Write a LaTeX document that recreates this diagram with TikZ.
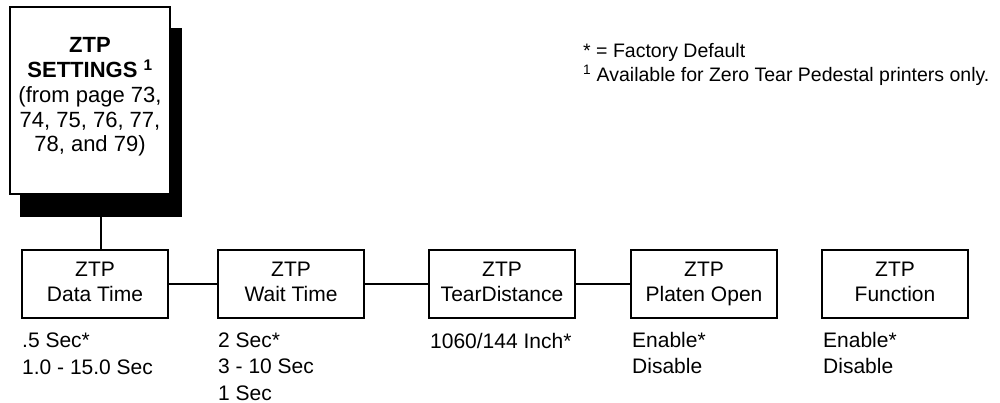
\documentclass[tikz,border=0pt]{standalone}
\usepackage{fontspec}
\setmainfont{Liberation Sans}
\newcommand{\dsc}{\vphantom{p}}
\begin{document}
\begin{tikzpicture}[x=1pt,y=-1pt,
  optfont/.style={font=\fontsize{21}{26.5}\selectfont},
  opt/.style={optfont, align=left, anchor=base west, inner sep=0pt},
  box/.style={draw, line width=1.4pt, minimum width=146pt, minimum height=68pt, inner sep=0pt,
    font=\fontsize{21}{25.5}\selectfont, align=center},
  conn/.style={line width=1.4pt}]
\useasboundingbox (0,0) rectangle (1000,403);
% top box with shadow
\node[fill=black, minimum width=162pt, minimum height=189pt, inner sep=0pt] (shadow) at (101,122.5) {};
\node[draw, fill=white, line width=1.4pt, minimum width=160pt, minimum height=187pt, inner sep=0pt] (top) at (90,100.5) {};
\node[font=\fontsize{22}{24.75}\selectfont, align=center, anchor=base, inner sep=0pt] (toptext) at (90,152)
  {\textbf{ZTP}\\\textbf{SETTINGS \textsuperscript{1}}\\(from page 73,\\74, 75, 76, 77,\\78, and 79)};
% legend
\node[font=\fontsize{19.5}{24.5}\selectfont, align=left, anchor=base west, inner sep=0pt] (legend) at (583,82)
  {* = Factory Default\\\textsuperscript{1} Available for Zero Tear Pedestal printers only.};
% menu boxes
\node[box] (data) at (95,284) {ZTP\\Data Time\dsc};
\node[box] (wait) at (291,284) {ZTP\\Wait Time\dsc};
\node[box] (tear) at (502,284) {ZTP\\TearDistance\dsc};
\node[box] (platen) at (704,284) {ZTP\\Platen Open};
\node[box] (func) at (895,284) {ZTP\\Function\dsc};
% connectors
\draw[conn] (shadow.south) -- (shadow.south |- data.north);
\draw[conn] (data.east) -- (wait.west);
\draw[conn] (wait.east) -- (tear.west);
\draw[conn] (tear.east) -- (platen.west);
% options
\node[opt] (dataopt) at (22,374) {.5 Sec*\\1.0 - 15.0 Sec};
\node[opt] (waitopt) at (218,400) {2 Sec*\\3 - 10 Sec\\1 Sec};
\node[opt] (tearopt) at (430,348) {1060/144 Inch*};
\node[opt] (platenopt) at (632,373.5) {Enable*\\Disable};
\node[opt] (funcopt) at (823,373.5) {Enable*\\Disable};
\end{tikzpicture}
\end{document}
